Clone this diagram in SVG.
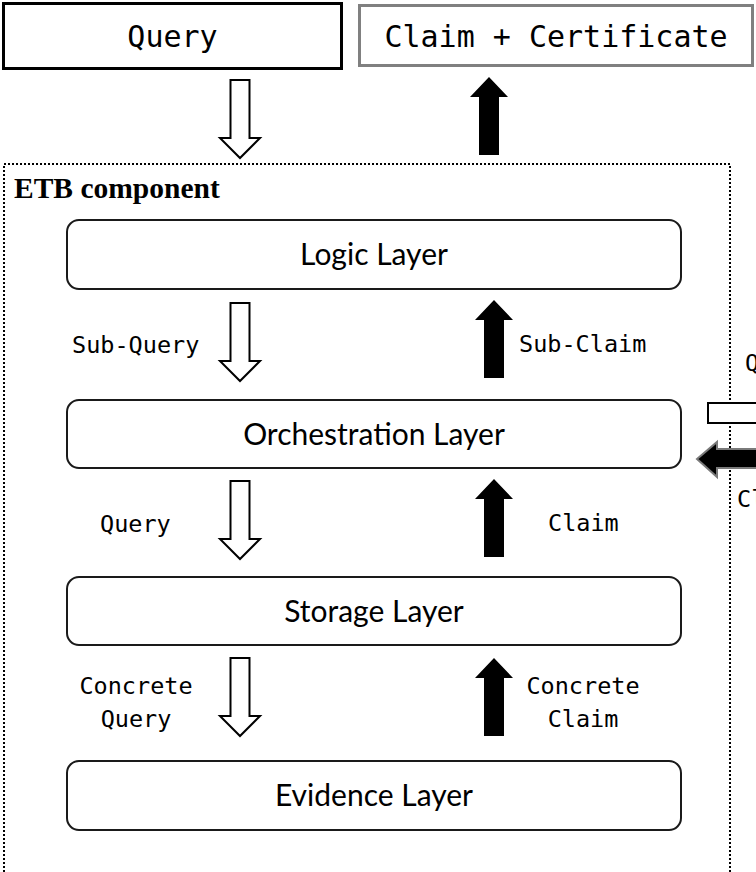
<svg xmlns="http://www.w3.org/2000/svg" width="756" height="872" viewBox="0 0 756 872">
  <style>
    .io { fill: #ffffff; stroke-width: 3; }
    .io-text { font-family: "DejaVu Sans Mono", "Liberation Mono", monospace; font-size: 30px; fill: #000; text-anchor: middle; }
    .layer { fill: #ffffff; stroke: #1a1a1a; stroke-width: 2; }
    .layer-text { font-family: Lato, "Open Sans", sans-serif; font-size: 30px; fill: #000; text-anchor: middle; }
    .label { font-family: "DejaVu Sans Mono", "Liberation Mono", monospace; font-size: 23.5px; fill: #000; }
    .mid { text-anchor: middle; }
    .hollow { fill: #ffffff; stroke: #000; stroke-width: 2; stroke-linejoin: miter; }
    .solid { fill: #000; stroke: none; }
  </style>
  <defs>
    <!-- hollow arrow pointing down, tip at (0,0) -->
    <polygon id="down-arrow" class="hollow" points="-9.5,-78 9.5,-78 9.5,-20 20,-20 0,0 -20,-20 -9.5,-20"/>
    <!-- filled arrow pointing up, tip at (0,0) -->
    <polygon id="up-arrow" class="solid" points="0,0 19,20 10,20 10,78 -10,78 -10,20 -19,20"/>
  </defs>

  <rect width="756" height="872" fill="#ffffff"/>

  <!-- external input / output -->
  <g id="query-in">
    <rect class="io" x="3.5" y="3.5" width="338" height="65" stroke="#000"/>
    <text class="io-text" x="172.5" y="47">Query</text>
  </g>
  <g id="claim-out">
    <rect class="io" x="359.5" y="5.5" width="393" height="60" stroke="#808080"/>
    <text class="io-text" x="556" y="47">Claim + Certificate</text>
  </g>

  <!-- ETB component container -->
  <g id="etb-component">
    <rect x="4" y="164" width="726" height="760" fill="none" stroke="#000" stroke-width="2" stroke-dasharray="2 2"/>
    <text x="14" y="198" font-family="'Liberation Serif', 'Times New Roman', serif" font-weight="bold" font-size="29.5px" fill="#000">ETB component</text>
  </g>

  <g id="logic-layer">
    <rect class="layer" x="67" y="220" width="614" height="69" rx="12"/>
    <text class="layer-text" x="374" y="265">Logic Layer</text>
  </g>
  <g id="orchestration-layer">
    <rect class="layer" x="67" y="400" width="614" height="68" rx="12"/>
    <text class="layer-text" x="374" y="445">Orchestration Layer</text>
  </g>
  <g id="storage-layer">
    <rect class="layer" x="67" y="577" width="614" height="68" rx="12"/>
    <text class="layer-text" x="374" y="622">Storage Layer</text>
  </g>
  <g id="evidence-layer">
    <rect class="layer" x="67" y="761" width="614" height="69" rx="12"/>
    <text class="layer-text" x="374" y="806">Evidence Layer</text>
  </g>

  <!-- connectors -->
  <g id="connectors">
    <use href="#down-arrow" x="240" y="158"/>
    <use href="#up-arrow" x="489" y="77"/>

    <use href="#down-arrow" x="240" y="381"/>
    <text class="label" x="72" y="353">Sub-Query</text>
    <use href="#up-arrow" x="494" y="300"/>
    <text class="label" x="519" y="352">Sub-Claim</text>

    <use href="#down-arrow" x="240" y="559"/>
    <text class="label" x="100" y="532">Query</text>
    <use href="#up-arrow" x="494" y="479"/>
    <text class="label" x="548" y="531">Claim</text>

    <use href="#down-arrow" x="240" y="736"/>
    <text class="label mid" x="136" y="694">Concrete</text>
    <text class="label mid" x="136" y="727">Query</text>
    <use href="#up-arrow" x="494" y="658"/>
    <text class="label mid" x="583" y="694">Concrete</text>
    <text class="label mid" x="583" y="727">Claim</text>

    <!-- links leaving to the right -->
    <text class="label" x="745" y="371">Q</text>
    <rect class="hollow" x="708" y="403" width="60" height="20"/>
    <polygon points="697,459 717,442 717,449 770,449 770,468 717,468 717,477" fill="#000" stroke="#7a7a7a" stroke-width="2" stroke-linejoin="miter"/>
    <text class="label" x="737" y="507">Cl</text>
  </g>
</svg>
